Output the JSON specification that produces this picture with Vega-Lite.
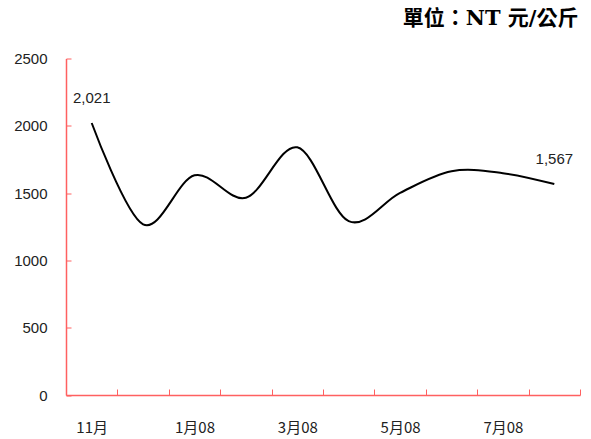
{
  "$schema": "https://vega.github.io/schema/vega-lite/v6.json",
  "autosize": "none",
  "width": 514,
  "height": 336.5,
  "padding": {"left": 66, "top": 58.5, "right": 11, "bottom": 44},
  "background": "white",
  "title": {
    "text": "單位：NT 元/公斤",
    "anchor": "end",
    "font": "DejaVu Serif, Noto Sans CJK TC",
    "fontSize": 21,
    "fontWeight": "bold",
    "color": "#000000",
    "offset": 23,
    "dx": -2
  },
  "config": {"view": {"stroke": null}},
  "data": {
    "values": [
      {"month": "11月", "price": 2021},
      {"month": "12月", "price": 1268},
      {"month": "1月08", "price": 1632},
      {"month": "2月08", "price": 1466},
      {"month": "3月08", "price": 1840},
      {"month": "4月08", "price": 1292},
      {"month": "5月08", "price": 1502},
      {"month": "6月08", "price": 1662},
      {"month": "7月08", "price": 1648},
      {"month": "8月08", "price": 1567}
    ]
  },
  "encoding": {
    "x": {
      "field": "month",
      "type": "ordinal",
      "sort": null,
      "bandPosition": 0.5,
      "scale": {"type": "band", "paddingInner": 0, "paddingOuter": 0},
      "axis": {
        "title": null,
        "tickBand": "extent",
        "domainColor": "#ff6060",
        "domainWidth": 1.5,
        "tickColor": "#ff6060",
        "tickSize": -6,
        "labelAngle": 0,
        "labelPadding": 31,
        "labelFont": "Noto Sans CJK TC",
        "labelFontSize": 15,
        "labelColor": "#222222",
        "labelExpr": "indexof(['11月','1月08','3月08','5月08','7月08'], datum.value) >= 0 ? datum.value : ''"
      }
    },
    "y": {
      "field": "price",
      "type": "quantitative",
      "scale": {"domain": [0, 2500]},
      "axis": {
        "title": null,
        "values": [0, 500, 1000, 1500, 2000, 2500],
        "format": "d",
        "grid": false,
        "domainColor": "#ff6060",
        "domainWidth": 1.5,
        "tickColor": "#ff6060",
        "tickSize": -5,
        "labelPadding": 24,
        "labelFont": "Liberation Sans",
        "labelFontSize": 15,
        "labelColor": "#222222"
      }
    }
  },
  "layer": [
    {
      "mark": {"type": "line", "interpolate": "cardinal", "color": "#000000", "strokeWidth": 2}
    },
    {
      "transform": [{"filter": "datum.month === '11月' || datum.month === '8月08'"}],
      "mark": {"type": "text", "dy": -25, "font": "Liberation Sans", "fontSize": 15, "color": "#222222"},
      "encoding": {"text": {"field": "price", "type": "quantitative", "format": ","}}
    }
  ]
}
